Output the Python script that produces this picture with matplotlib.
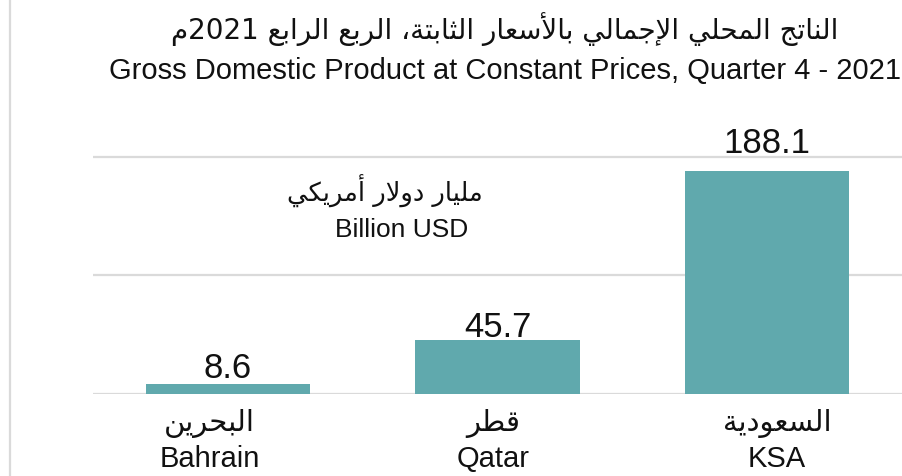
import re
import matplotlib
matplotlib.use("Agg")
import matplotlib.pyplot as plt
from matplotlib.lines import Line2D

plt.rcParams['font.family'] = ['Liberation Sans', 'DejaVu Sans']

# data
countries_en = ["Bahrain", "Qatar", "KSA"]
countries_ar = ["البحرين", "قطر", "السعودية"]
gdp = [8.6, 45.7, 188.1]

title_ar = "الناتج المحلي الإجمالي بالأسعار الثابتة، الربع الرابع 2021م"
title_en = "Gross Domestic Product at Constant Prices, Quarter 4 - 2021"
unit_ar = "مليار دولار أمريكي"
unit_en = "Billion USD"

BAR_COLOR = "#60A9AD"
GRID_COLOR = "#DADADA"
TEXT_COLOR = "#111111"
ARABIC_FONT = "DejaVu Sans"

# gap between bar top and its value label, in points
label_pad = [4.3, 2.2, 13]

# presentation forms: isolated, final, initial, medial
FORMS = {
    'ا': (0xFE8D, 0xFE8E, None, None),
    'أ': (0xFE83, 0xFE84, None, None),
    'إ': (0xFE87, 0xFE88, None, None),
    'ب': (0xFE8F, 0xFE90, 0xFE91, 0xFE92),
    'ة': (0xFE93, 0xFE94, None, None),
    'ت': (0xFE95, 0xFE96, 0xFE97, 0xFE98),
    'ث': (0xFE99, 0xFE9A, 0xFE9B, 0xFE9C),
    'ج': (0xFE9D, 0xFE9E, 0xFE9F, 0xFEA0),
    'ح': (0xFEA1, 0xFEA2, 0xFEA3, 0xFEA4),
    'د': (0xFEA9, 0xFEAA, None, None),
    'ر': (0xFEAD, 0xFEAE, None, None),
    'س': (0xFEB1, 0xFEB2, 0xFEB3, 0xFEB4),
    'ط': (0xFEC1, 0xFEC2, 0xFEC3, 0xFEC4),
    'ع': (0xFEC9, 0xFECA, 0xFECB, 0xFECC),
    'ق': (0xFED5, 0xFED6, 0xFED7, 0xFED8),
    'ك': (0xFED9, 0xFEDA, 0xFEDB, 0xFEDC),
    'ل': (0xFEDD, 0xFEDE, 0xFEDF, 0xFEE0),
    'م': (0xFEE1, 0xFEE2, 0xFEE3, 0xFEE4),
    'ن': (0xFEE5, 0xFEE6, 0xFEE7, 0xFEE8),
    'و': (0xFEED, 0xFEEE, None, None),
    'ي': (0xFEF1, 0xFEF2, 0xFEF3, 0xFEF4),
}
LAM_ALEF = {'ا': (0xFEFB, 0xFEFC), 'أ': (0xFEF7, 0xFEF8), 'إ': (0xFEF9, 0xFEFA)}


def shape(text):
    """Joins arabic letters with their contextual forms (matplotlib has no shaping)."""
    tokens = []
    i = 0
    while i < len(text):
        c = text[i]
        if c == 'ل' and i + 1 < len(text) and text[i + 1] in LAM_ALEF:
            tokens.append(('LA', text[i + 1]))
            i += 2
        else:
            tokens.append((c, None))
            i += 1

    def is_arabic(tok):
        return tok[0] == 'LA' or tok[0] in FORMS

    def joins_next(tok):
        return tok[0] in FORMS and FORMS[tok[0]][2] is not None

    out = []
    for k, tok in enumerate(tokens):
        prev = tokens[k - 1] if k > 0 else None
        nxt = tokens[k + 1] if k + 1 < len(tokens) else None
        jp = prev is not None and joins_next(prev) and is_arabic(tok)
        jn = nxt is not None and joins_next(tok) and is_arabic(nxt)
        c, a = tok
        if c == 'LA':
            iso, fin = LAM_ALEF[a]
            out.append(chr(fin if jp else iso))
        elif c in FORMS:
            iso, fin, ini, med = FORMS[c]
            if jp and jn:
                out.append(chr(med))
            elif jp:
                out.append(chr(fin))
            elif jn:
                out.append(chr(ini))
            else:
                out.append(chr(iso))
        else:
            out.append(c)
    return ''.join(out)


def rtl(text):
    # visual order: reverse everything except runs of digits
    parts = re.findall(r'[0-9]+|.', shape(text))
    return ''.join(reversed(parts))


W, H = 902, 476
fig = plt.figure(figsize=(W / 100, H / 100), dpi=100)
ax = fig.add_axes([93 / W, 1 - 394 / H, 1 - 93 / W, 294 / H])

x = list(range(len(gdp)))
ax.bar(x, gdp, width=0.61, color=BAR_COLOR, zorder=2)
ax.set_xlim(-0.5, 2.5)
ax.set_ylim(0, 248)
ax.set_yticks([0, 100, 200])
ax.yaxis.grid(True, color=GRID_COLOR, linewidth=1.6)
ax.set_axisbelow(True)
ax.tick_params(left=False, bottom=False, labelleft=False, labelbottom=False)
for s in ax.spines.values():
    s.set_visible(False)

# value labels
for i, v in enumerate(gdp):
    ax.annotate(f"{v:.1f}", (i, v), xytext=(0, label_pad[i]), textcoords="offset points",
                ha="center", va="baseline", fontsize=25, color=TEXT_COLOR)

# category labels (arabic above english)
for i in x:
    dx = (i - 1) * 10 - 3
    ax.annotate(rtl(countries_ar[i]), (i, 0), xycoords=ax.get_xaxis_transform(),
                xytext=(dx, -27), textcoords="offset points", ha="center", va="baseline",
                fontsize=21, family=ARABIC_FONT, color=TEXT_COLOR)
    ax.annotate(countries_en[i], (i, 0), xycoords=ax.get_xaxis_transform(),
                xytext=(dx, -52.5), textcoords="offset points", ha="center", va="baseline",
                fontsize=21, color=TEXT_COLOR)

# unit note
fig.text(385 / W, 1 - 202 / H, rtl(unit_ar), ha="center", va="baseline", fontsize=18.5,
         family=ARABIC_FONT, color=TEXT_COLOR)
fig.text(402 / W, 1 - 237 / H, unit_en, ha="center", va="baseline", fontsize=19, color=TEXT_COLOR)

# titles
fig.text(505 / W, 1 - 39 / H, rtl(title_ar), ha="center", va="baseline", fontsize=20,
         family=ARABIC_FONT, color=TEXT_COLOR)
fig.text(505 / W, 1 - 79 / H, title_en, ha="center", va="baseline", fontsize=21, color=TEXT_COLOR)

# light frame line on the left edge
fig.add_artist(Line2D([9.5 / W, 9.5 / W], [0, 1], transform=fig.transFigure,
                      color=GRID_COLOR, linewidth=1.6))

fig.savefig("out.png", dpi=100)
plt.close()
